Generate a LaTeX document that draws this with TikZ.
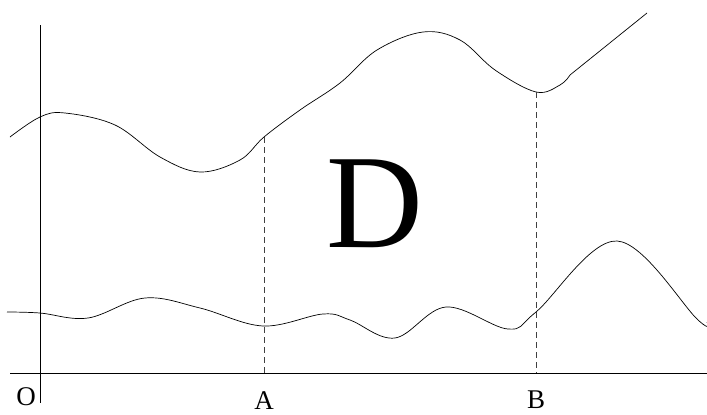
\documentclass[tikz,border=0pt]{standalone}
\usepackage{fontspec}
\setmainfont{Liberation Serif}
\usepackage{tikz}
\usetikzlibrary{positioning, calc}
\tikzset{
	axisline/.style={line width=0.8pt, draw=black},
	curveline/.style={line width=0.7pt, draw=black},
	guideline/.style={line width=0.6pt, draw=black!75, dash pattern=on 6pt off 4pt},
	ptlabel/.style={font=\fontsize{27}{27}\selectfont, inner sep=0pt},
	regionlabel/.style={font=\fontsize{134}{134}\selectfont, inner sep=0pt},
}
\begin{document}
\begin{tikzpicture}[x=1pt, y=-1pt]
			\useasboundingbox (0,0) rectangle (707,415);
			% axes
			\coordinate (yTop) at (40,25);
			\coordinate (yBot) at (40,403);
			\coordinate (xLeft) at (10,373);
			\coordinate (xRight) at (707,373);
			\draw[axisline] (yTop) -- (yBot);
			\draw[axisline] (xLeft) -- (xRight);
			% upper boundary
			\coordinate (upA) at (264,137);
			\coordinate (upB) at (536,92);
			\draw[curveline] plot[smooth, tension=0.6] coordinates {(10,137) (40,117) (65,113) (115,125) (160,157) (200,172) (240,160) (upA) (300,110) (340,83) (377,50) (423,32) (460,40) (495,70) (upB) (560,85) (570,75)} -- (647,13);
			% lower boundary
			\draw[curveline] plot[smooth, tension=0.6] coordinates {(7,312) (40,313) (88,318) (145,298) (200,308) (263,326) (323,314) (350,320) (395,338) (446,307) (508,329) (536,312) (617,241) (698,320) (707,322)};
			% vertical guides
			\coordinate (axA) at (264,373);
			\coordinate (axB) at (536,373);
			\draw[guideline] (upA) -- (axA);
			\draw[guideline] (upB) -- (axB);
			% labels
			\node[ptlabel] (lblO) at (26,397) {O};
			\node[ptlabel, below=18pt of axA] (lblA) {A};
			\node[ptlabel, below=18pt of axB] (lblB) {B};
			\node[regionlabel] (lblD) at (375,204) {D};
		\end{tikzpicture}
\end{document}
